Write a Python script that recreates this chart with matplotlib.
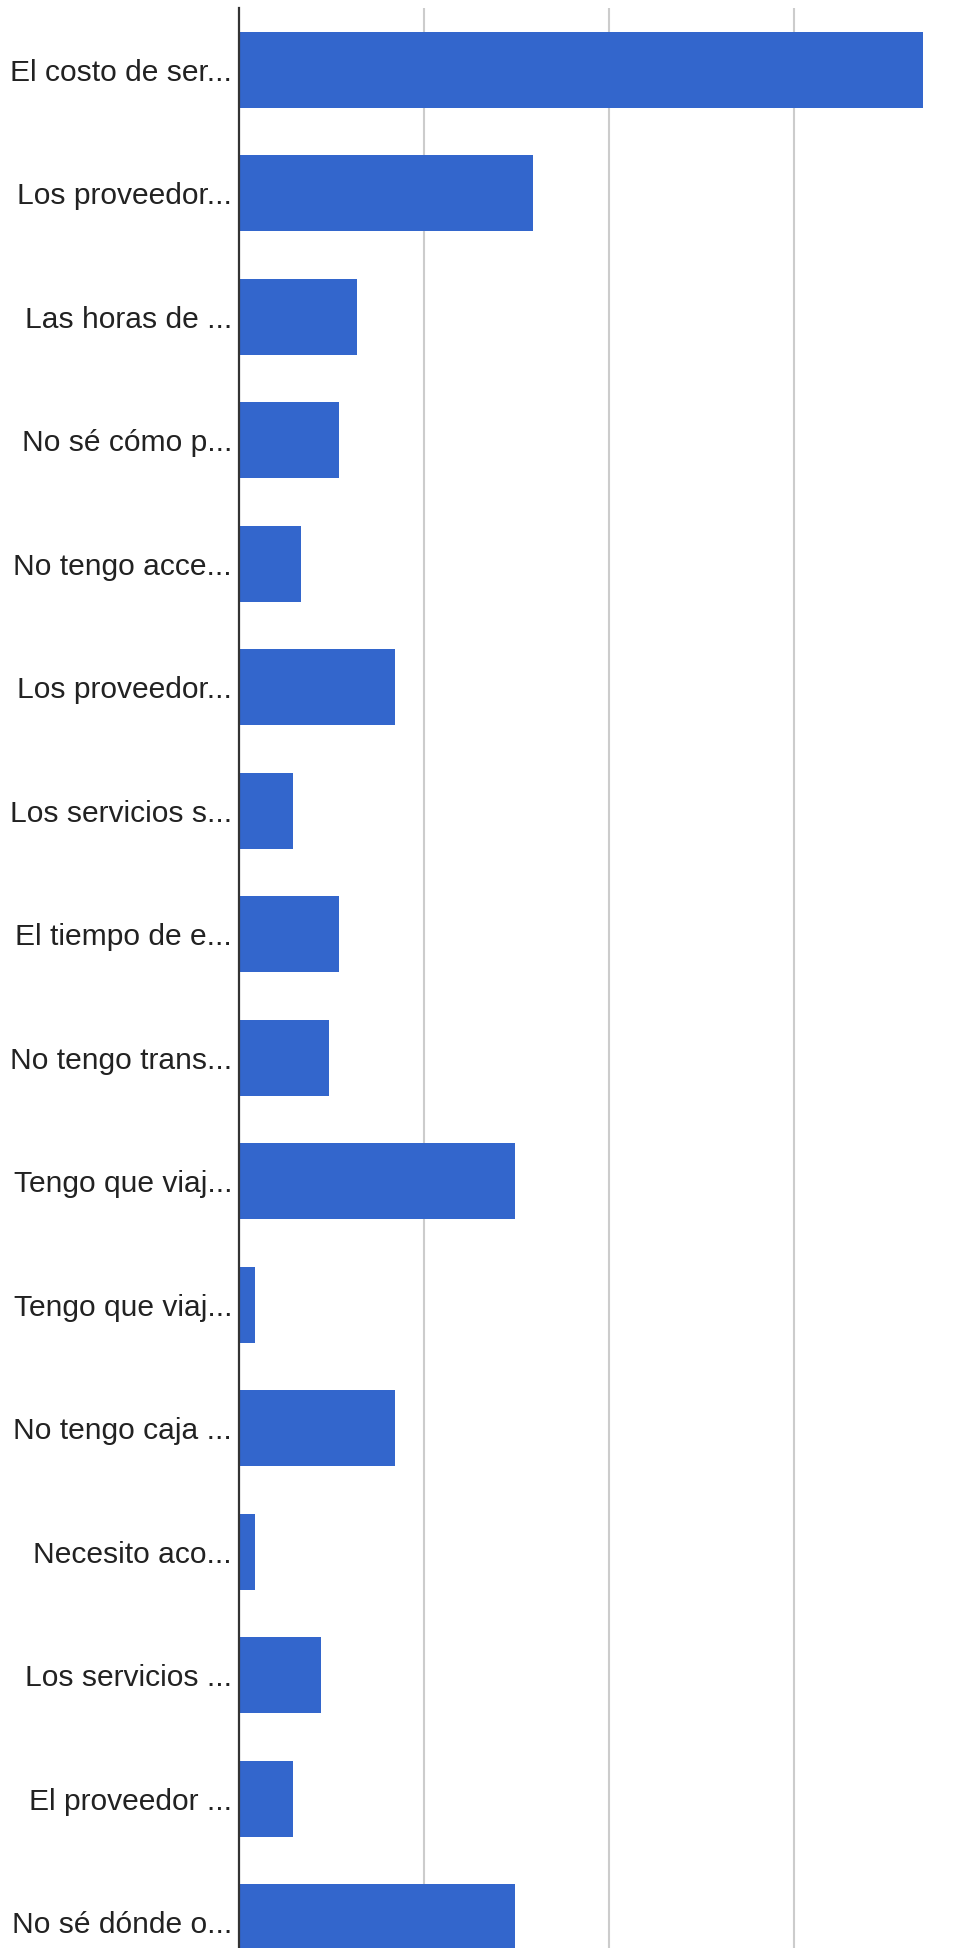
import matplotlib
matplotlib.use("Agg")
import matplotlib.pyplot as plt

# Labels as shown (truncated by the chart), top to bottom
LABELS = [
    "El costo de ser...",
    "Los proveedor...",
    "Las horas de ...",
    "No sé cómo p...",
    "No tengo acce...",
    "Los proveedor...",
    "Los servicios s...",
    "El tiempo de e...",
    "No tengo trans...",
    "Tengo que viaj...",
    "Tengo que viaj...",
    "No tengo caja ...",
    "Necesito aco...",
    "Los servicios ...",
    "El proveedor ...",
    "No sé dónde o...",
]

# Bar lengths (gridline step = 10)
VALUES = [36.97, 15.89, 6.38, 5.41, 3.35, 8.43, 2.92, 5.41,
          4.86, 14.92, 0.86, 8.43, 0.86, 4.43, 2.92, 14.92]

GRID_TICKS = [10, 20, 30]

BAR_COLOR = "#3366CC"
W, H, DPI = 970, 1948, 100

fig = plt.figure(figsize=(W / DPI, H / DPI), dpi=DPI)
fig.patch.set_facecolor("white")

left_px, top_px = 239, 8
ax = fig.add_axes([left_px / W, 0, (W - left_px) / W, (H - top_px) / H])

pitch = 123.47
positions = list(range(len(VALUES)))
ax.barh(positions, VALUES, height=76 / pitch, color=BAR_COLOR, zorder=2)

ax.set_xlim(0, (W - left_px) / 18.5)
ax.set_ylim((H - 70) / pitch, -62 / pitch)

ax.set_xticks(GRID_TICKS)
ax.set_xticklabels([])
ax.tick_params(axis="x", length=0)
ax.grid(axis="x", color="#cccccc", linewidth=1.5, zorder=0)

ax.set_yticks(positions)
ax.set_yticklabels(LABELS, fontfamily="Liberation Sans", fontsize=21.6,
                   color="#222222")
ax.tick_params(axis="y", length=0, pad=5)

for side in ["top", "right", "bottom"]:
    ax.spines[side].set_visible(False)
ax.spines["left"].set_color("#333333")
ax.spines["left"].set_linewidth(1.6)
ax.spines["left"].set_zorder(3)

fig.savefig("out.png", dpi=DPI, facecolor="white")
